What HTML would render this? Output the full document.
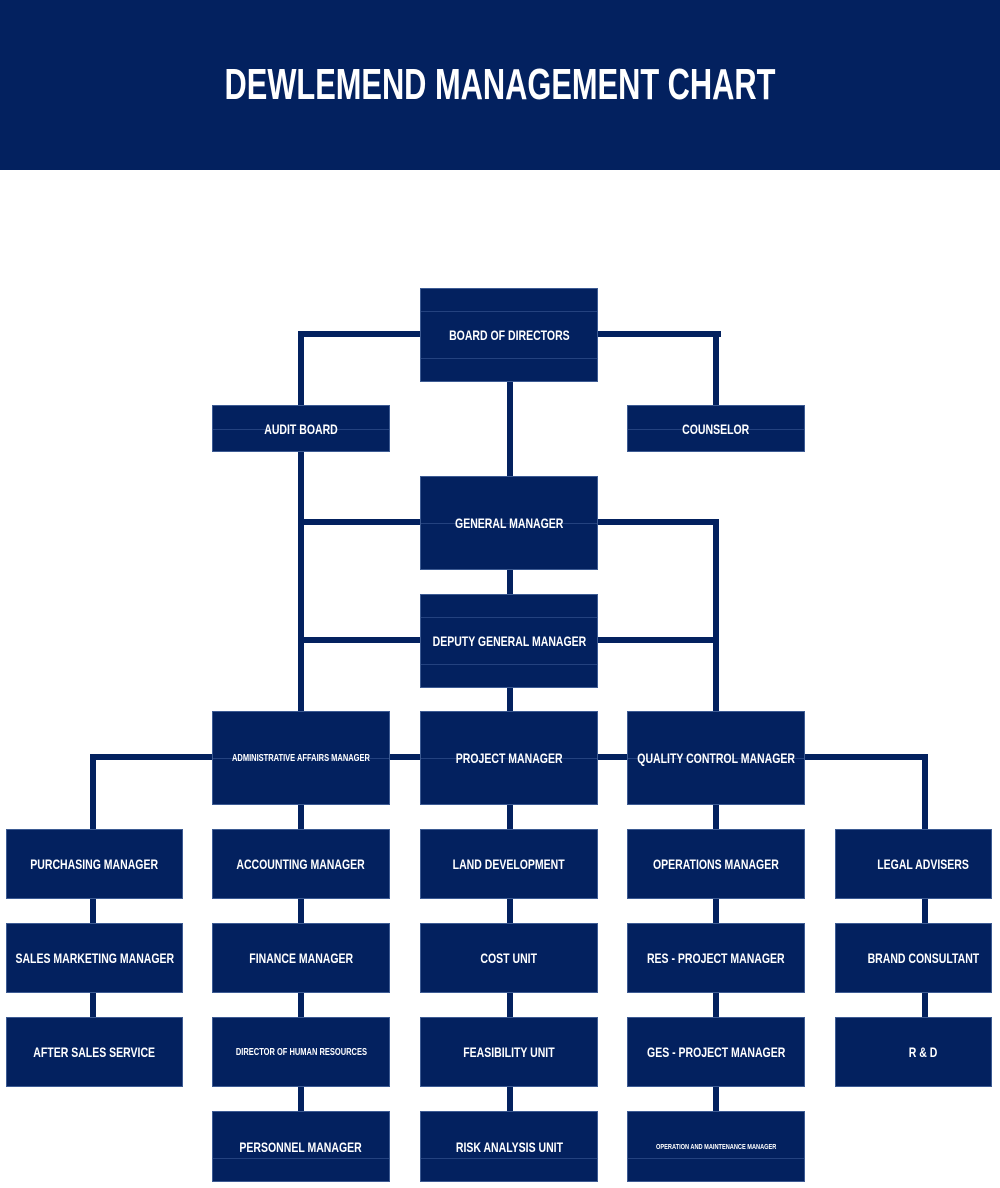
<!DOCTYPE html>
<html><head><meta charset="utf-8"><style>
body{margin:0;width:1000px;height:1188px;background:#fff;position:relative;overflow:hidden;font-family:"Liberation Sans",sans-serif;}
.hd{position:absolute;left:0;top:0;width:1000px;height:170px;background:#03215f;}
.hd h1{margin:0;position:absolute;top:60px;width:1000px;text-align:center;color:#fff;font-size:44px;font-weight:bold;transform:scale(0.7,1.0);white-space:nowrap;}
.b{position:absolute;background:#03215f;color:#fff;font-weight:bold;font-size:14px;display:flex;align-items:center;justify-content:center;text-align:center;box-sizing:border-box;border:1px solid #3d5b93;white-space:nowrap;}
.b span{display:inline-block;transform:scaleX(0.75);position:relative;z-index:1;}
.l{position:absolute;background:#03215f;}
.il{position:absolute;left:0;right:0;height:1px;background:#24427f;}
</style></head><body>
<div class="hd"><h1>DEWLEMEND MANAGEMENT CHART</h1></div>

<div class="l" style="left:298px;top:331px;width:423px;height:6px"></div>
<div class="l" style="left:298px;top:331px;width:6px;height:75px"></div>
<div class="l" style="left:713px;top:331px;width:6px;height:75px"></div>
<div class="l" style="left:507px;top:380px;width:6px;height:100px"></div>
<div class="l" style="left:298px;top:450px;width:6px;height:262px"></div>
<div class="l" style="left:298px;top:519px;width:421px;height:6px"></div>
<div class="l" style="left:713px;top:519px;width:6px;height:193px"></div>
<div class="l" style="left:298px;top:637px;width:421px;height:6px"></div>
<div class="l" style="left:507px;top:568px;width:6px;height:145px"></div>
<div class="l" style="left:90px;top:754px;width:838px;height:6px"></div>
<div class="l" style="left:90px;top:754px;width:6px;height:76px"></div>
<div class="l" style="left:922px;top:754px;width:6px;height:76px"></div>
<div class="l" style="left:90px;top:895px;width:6px;height:125px"></div>
<div class="l" style="left:298px;top:800px;width:6px;height:315px"></div>
<div class="l" style="left:507px;top:800px;width:6px;height:315px"></div>
<div class="l" style="left:713px;top:800px;width:6px;height:315px"></div>
<div class="l" style="left:922px;top:895px;width:6px;height:125px"></div>

<div class="b" style="left:420px;top:288px;width:178px;height:94px"><div class="il" style="top:22px"></div><div class="il" style="top:69px"></div><span>BOARD OF DIRECTORS</span></div>
<div class="b" style="left:212px;top:405px;width:178px;height:47px"><div class="il" style="top:23px"></div><span>AUDIT BOARD</span></div>
<div class="b" style="left:627px;top:405px;width:178px;height:47px"><div class="il" style="top:23px"></div><span>COUNSELOR</span></div>
<div class="b" style="left:420px;top:476px;width:178px;height:94px"><div class="il" style="top:46px"></div><span>GENERAL MANAGER</span></div>
<div class="b" style="left:420px;top:594px;width:178px;height:94px"><div class="il" style="top:22px"></div><div class="il" style="top:69px"></div><span>DEPUTY GENERAL MANAGER</span></div>
<div class="b" style="left:212px;top:711px;width:178px;height:94px;font-size:10px"><div class="il" style="top:46px"></div><span>ADMINISTRATIVE AFFAIRS MANAGER</span></div>
<div class="b" style="left:420px;top:711px;width:178px;height:94px"><div class="il" style="top:46px"></div><span>PROJECT MANAGER</span></div>
<div class="b" style="left:627px;top:711px;width:178px;height:94px"><div class="il" style="top:46px"></div><span>QUALITY CONTROL MANAGER</span></div>

<div class="b" style="left:6px;top:829px;width:177px;height:70px"><span>PURCHASING MANAGER</span></div>
<div class="b" style="left:6px;top:923px;width:177px;height:70px"><span>SALES MARKETING MANAGER</span></div>
<div class="b" style="left:6px;top:1017px;width:177px;height:70px"><span>AFTER SALES SERVICE</span></div>

<div class="b" style="left:212px;top:829px;width:178px;height:70px"><span>ACCOUNTING MANAGER</span></div>
<div class="b" style="left:212px;top:923px;width:178px;height:70px"><span>FINANCE MANAGER</span></div>
<div class="b" style="left:212px;top:1017px;width:178px;height:70px;font-size:10px"><span>DIRECTOR OF HUMAN RESOURCES</span></div>
<div class="b" style="left:212px;top:1111px;width:178px;height:71px"><div class="il" style="top:46px"></div><span>PERSONNEL MANAGER</span></div>

<div class="b" style="left:420px;top:829px;width:178px;height:70px"><span>LAND DEVELOPMENT</span></div>
<div class="b" style="left:420px;top:923px;width:178px;height:70px"><span>COST UNIT</span></div>
<div class="b" style="left:420px;top:1017px;width:178px;height:70px"><span>FEASIBILITY UNIT</span></div>
<div class="b" style="left:420px;top:1111px;width:178px;height:71px"><div class="il" style="top:46px"></div><span>RISK ANALYSIS UNIT</span></div>

<div class="b" style="left:627px;top:829px;width:178px;height:70px"><span>OPERATIONS MANAGER</span></div>
<div class="b" style="left:627px;top:923px;width:178px;height:70px"><span>RES - PROJECT MANAGER</span></div>
<div class="b" style="left:627px;top:1017px;width:178px;height:70px"><span>GES - PROJECT MANAGER</span></div>
<div class="b" style="left:627px;top:1111px;width:178px;height:71px;font-size:7.5px"><div class="il" style="top:46px"></div><span>OPERATION AND MAINTENANCE MANAGER</span></div>

<div class="b" style="left:835px;top:829px;width:157px;height:70px;padding-left:20px"><span>LEGAL ADVISERS</span></div>
<div class="b" style="left:835px;top:923px;width:157px;height:70px;padding-left:20px"><span>BRAND CONSULTANT</span></div>
<div class="b" style="left:835px;top:1017px;width:157px;height:70px;padding-left:20px"><span>R &amp; D</span></div>
</body></html>
